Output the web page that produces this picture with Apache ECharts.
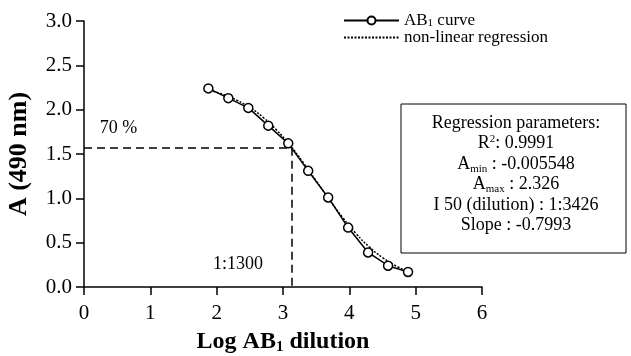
<!DOCTYPE html>
<html>
<head>
<meta charset="utf-8">
<script src="https://cdn.jsdelivr.net/npm/echarts@6/dist/echarts.min.js"></script>
<style>
  html, body { margin: 0; padding: 0; background: #fff; }
  #main { width: 631px; height: 356px; }
</style>
</head>
<body>
<div id="main"></div>
<script>
// measured points (log dilution vs absorbance at 490 nm)
const logDilution = [1.875, 2.176, 2.477, 2.778, 3.079, 3.380, 3.681, 3.982, 4.283, 4.584, 4.885];
const absorbance = [2.24, 2.13, 2.02, 1.82, 1.62, 1.31, 1.01, 0.67, 0.39, 0.24, 0.17];
// fitted curve
const fitX = [1.9, 2.1, 2.3, 2.5, 2.7, 2.9, 3.1, 3.3, 3.5, 3.7, 3.9, 4.1, 4.3, 4.5, 4.7, 4.9];
const fitY = [2.216, 2.171, 2.108, 2.024, 1.913, 1.773, 1.604, 1.408, 1.198, 0.985, 0.783, 0.603, 0.453, 0.332, 0.239, 0.169];
// 70 % cut-off
const cutX = 3.13;
const cutY = 1.57;
const notes = [
  { text: '70 %', x: 0.52, y: 1.79 },
  { text: '1:1300', x: 2.32, y: 0.26 }
];
const xTicks = [0, 1, 2, 3, 4, 5, 6];
const yTicks = [0, 0.5, 1, 1.5, 2, 2.5, 3];
const paramLines = [
  'Regression parameters:',
  'R{sup|2}: 0.9991',
  'A{sub|min} : -0.005548',
  'A{sub|max} : 2.326',
  'I 50 (dilution) : 1:3426',
  'Slope : -0.7993'
];

const serif = "'Liberation Serif', 'DejaVu Serif', serif";

let chart = echarts.init(document.getElementById('main'), null, { renderer: 'canvas' });

let option = {
  animation: false,
  backgroundColor: '#fff',
  grid: { left: 84, right: 149, top: 21, bottom: 69, containLabel: false, outerBoundsMode: 'none' },
  legend: {
    orient: 'vertical',
    left: 338,
    top: 7,
    itemWidth: 55,
    itemHeight: 10,
    itemGap: 0,
    data: [
      'AB1 curve',
      {
        name: 'non-linear regression',
        itemStyle: { color: 'rgba(0,0,0,0)', borderColor: 'rgba(0,0,0,0)', borderWidth: 0, opacity: 0 }
      }
    ],
    formatter: function (name) {
      if (name === 'AB1 curve') return '{t|AB}{s|1}{t| curve}';
      return '{t|' + name + '}';
    },
    textStyle: {
      color: '#000',
      fontFamily: serif,
      fontSize: 17,
      rich: {
        t: { fontFamily: serif, fontSize: 17, lineHeight: 17, color: '#000' },
        s: { fontFamily: serif, fontSize: 11, lineHeight: 10, verticalAlign: 'bottom', color: '#000' }
      }
    }
  },
  xAxis: {
    type: 'value',
    min: xTicks[0],
    max: xTicks[xTicks.length - 1],
    interval: 1,
    name: '{b|Log AB}{s|1}{b| dilution}',
    nameLocation: 'middle',
    nameGap: 42,
    nameTextStyle: {
      rich: {
        b: { fontFamily: serif, fontWeight: 'bold', fontSize: 24, lineHeight: 26, color: '#000' },
        s: { fontFamily: serif, fontWeight: 'bold', fontSize: 15, lineHeight: 12, verticalAlign: 'bottom', color: '#000' }
      }
    },
    axisLine: { lineStyle: { color: '#000', width: 1.5 } },
    axisTick: { length: 8, lineStyle: { color: '#000', width: 1.5 } },
    axisLabel: { color: '#000', fontFamily: serif, fontSize: 21, margin: 16 },
    splitLine: { show: false }
  },
  yAxis: {
    type: 'value',
    min: yTicks[0],
    max: yTicks[yTicks.length - 1],
    interval: 0.5,
    name: 'A (490 nm)',
    nameLocation: 'middle',
    nameGap: 52,
    nameTextStyle: { color: '#000', fontFamily: serif, fontWeight: 'bold', fontSize: 26 },
    axisLine: { show: true, lineStyle: { color: '#000', width: 1.5 } },
    axisTick: { show: true, length: 8, lineStyle: { color: '#000', width: 1.5 } },
    axisLabel: {
      color: '#000', fontFamily: serif, fontSize: 21, margin: 12,
      formatter: v => v.toFixed(1)
    },
    splitLine: { show: false }
  },
  series: [
    {
      name: 'non-linear regression',
      type: 'line',
      data: fitX.map((x, i) => [x, fitY[i]]),
      showSymbol: false,
      symbol: 'none',
      smooth: true,
      z: 1,
      lineStyle: { color: '#000', width: 1.5, type: [2, 1.5] },
      itemStyle: { color: '#000' },
      markLine: {
        silent: true,
        symbol: ['none', 'none'],
        label: { show: false },
        lineStyle: { color: '#000', width: 1.5, type: [8, 5] },
        data: [
          [{ coord: [0, cutY] }, { coord: [cutX, cutY] }],
          [{ coord: [cutX, cutY] }, { coord: [cutX, 0] }]
        ]
      }
    },
    {
      name: 'AB1 curve',
      type: 'line',
      data: logDilution.map((x, i) => [x, absorbance[i]]),
      symbol: 'circle',
      symbolSize: 9,
      z: 3,
      lineStyle: { color: '#000', width: 1.5 },
      itemStyle: { color: '#fff', borderColor: '#000', borderWidth: 1.5 }
    },
    {
      name: 'notes',
      type: 'scatter',
      data: notes.map(n => ({ value: [n.x, n.y], name: n.text })),
      symbolSize: 0,
      silent: true,
      itemStyle: { opacity: 1, color: '#000' },
      label: {
        show: true,
        position: 'inside',
        formatter: p => p.name,
        color: '#000',
        opacity: 1,
        fontFamily: serif,
        fontSize: 18
      }
    }
  ],
  graphic: [
    {
      type: 'rect',
      x: 401,
      y: 104,
      shape: { x: 0, y: 0, width: 225, height: 149 },
      style: { fill: '#fff', stroke: '#000', lineWidth: 1 },
      z: 10
    },
    {
      type: 'text',
      x: 516,
      y: 113,
      style: {
        x: 0,
        y: 0,
        text: paramLines.join('\n'),
        align: 'center',
        verticalAlign: 'top',
        fill: '#000',
        fontFamily: serif,
        fontSize: 18,
        lineHeight: 20.5,
        rich: {
          sup: { fontFamily: serif, fontSize: 11, lineHeight: 12, verticalAlign: 'top', fill: '#000' },
          sub: { fontFamily: serif, fontSize: 11, lineHeight: 12, verticalAlign: 'bottom', fill: '#000' }
        }
      },
      z: 11
    }
  ]
};

chart.setOption(option);
</script>
</body>
</html>
